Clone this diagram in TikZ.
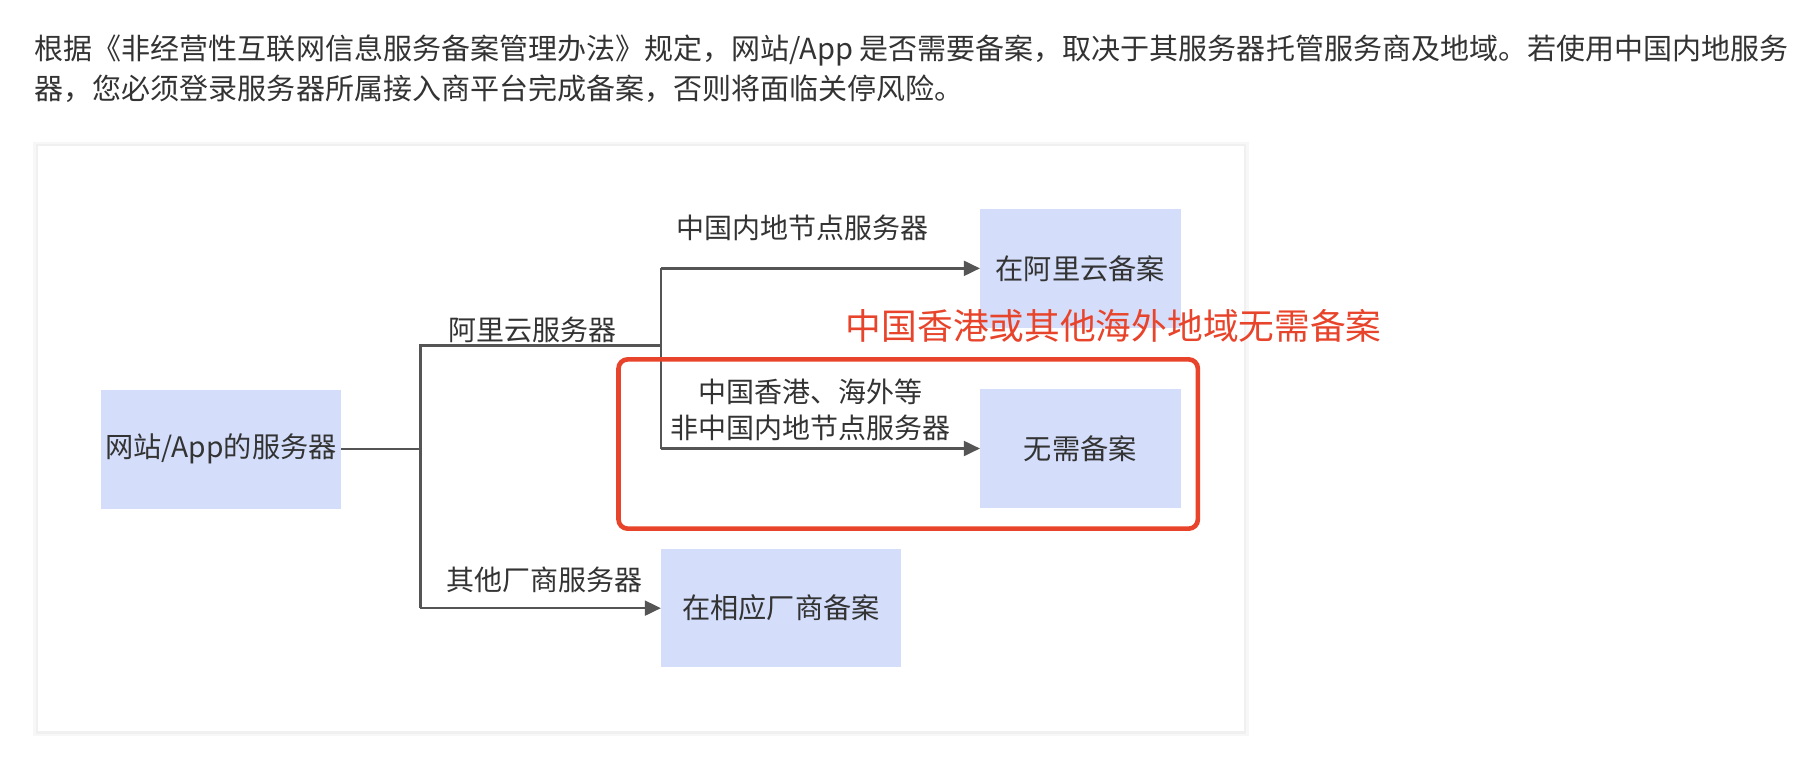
\documentclass[tikz,border=0pt]{standalone}
\usepackage{fontspec}
\setmainfont{Noto Sans CJK SC}
\usepackage{xcolor}
\usetikzlibrary{positioning,arrows.meta}

\definecolor{boxblue}{HTML}{D4DEFA}
\definecolor{linegray}{HTML}{555555}
\definecolor{textgray}{HTML}{333333}
\definecolor{alertred}{HTML}{E8442B}

\tikzset{
  box/.style={fill=boxblue, text=textgray, minimum width=208pt, minimum height=103pt,
    inner sep=0pt, font=\fontsize{24.5}{28}\selectfont},
  edgetext/.style={text=textgray, inner sep=0pt, align=center,
    font=\fontsize{24.3}{31}\selectfont},
  link/.style={draw=linegray, line width=2pt},
  arrow/.style={link, -{Triangle[length=14pt,width=13pt]}},
  intro/.style={text=textgray, anchor=north west, align=left, inner sep=0pt,
    font=\fontsize{25.2}{35}\selectfont},
}

\begin{document}
\begin{tikzpicture}[x=1pt, y=-1pt]
  \useasboundingbox (0,0) rectangle (1568,660);
  \node[intro] (intro) at (30,30) {根据《非经营性互联网信息服务备案管理办法》规定，网站/App 是否需要备案，取决于其服务器托管服务商及地域。若使用中国内地服务\\器，您必须登录服务器所属接入商平台完成备案，否则将面临关停风险。};

  % card
  \fill[black!3] (29,123) rectangle (1084,639);
  \fill[black!6] (31,125) rectangle (1082,637);
  \fill[white] (33,127) rectangle (1080,635);

  \node[box] (server) at (192,390) {网站/App的服务器};
  \node[box, minimum width=174pt] (aliyun) at (938,233) {在阿里云备案};
  \node[box, minimum width=174pt, below=53pt of aliyun] (exempt) {无需备案};
  \node[box] (vendor) at (678,528) {在相应厂商备案};

  \coordinate (split) at (365,390);
  \coordinate (cloud) at (574,300);

  \draw[link] (server) -- (split);
  \draw[link] (cloud) -- (split |- cloud) -- (split |- vendor);
  \draw[arrow] (split |- vendor) -- (vendor);
  \draw[link] (cloud |- aliyun) -- (cloud |- exempt);
  \draw[arrow] (cloud |- aliyun) -- (aliyun);
  \draw[arrow] (cloud |- exempt) -- (exempt);

  \node[edgetext] (cloudtext) at (462,286) {阿里云服务器};
  \node[edgetext] (mainland) at (697,198) {中国内地节点服务器};
  \node[edgetext] (overseas) at (704,356) {中国香港、海外等\\非中国内地节点服务器};
  \node[edgetext] (others) at (473,503) {其他厂商服务器};

  % highlight
  \draw[alertred, line width=4pt, rounded corners=8pt] (537,312) rectangle (1040,459);
  \node[text=alertred, inner sep=0pt, font=\fontsize{31}{36}\selectfont] (note) at (967,283) {中国香港或其他海外地域无需备案};
\end{tikzpicture}
\end{document}
